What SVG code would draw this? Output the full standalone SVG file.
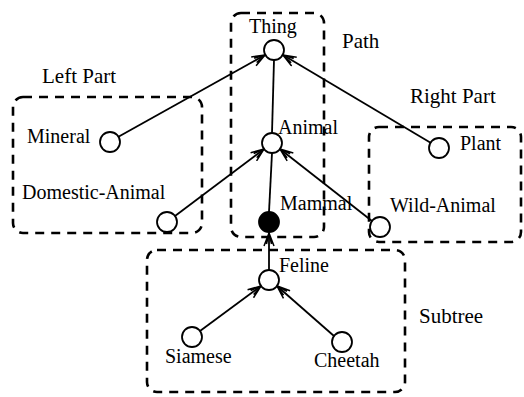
<svg xmlns="http://www.w3.org/2000/svg" width="524" height="397" viewBox="0 0 524 397">
<style>
.box{fill:none;stroke:#000;stroke-width:2.6;stroke-dasharray:9 7}
.edge{stroke:#000;stroke-width:1.8;fill:none}
.node{fill:#fff;stroke:#000;stroke-width:1.8}
.filled{fill:#000;stroke:#000;stroke-width:1.8}
text{font-family:"Liberation Serif","Times New Roman",serif;font-size:20px;fill:#000}
.region{font-size:21px}
</style>
<defs>
<marker id="arr" markerWidth="16" markerHeight="12" viewBox="-14 -6 16 12" refX="0" refY="0" orient="auto" markerUnits="userSpaceOnUse">
<path d="M-13,-5 L0,0 L-13,5 M-11,-2.5 L0,0 L-11,2.5" fill="none" stroke="#000" stroke-width="1.5"/>
</marker>
</defs>
<g id="regions">
<rect class="box" x="13" y="97" width="189" height="136" rx="10"/>
<rect class="box" x="231" y="13" width="93" height="224" rx="10"/>
<rect class="box" x="369" y="127" width="152" height="115" rx="10"/>
<rect class="box" x="147" y="250" width="258" height="142" rx="10"/>
<text class="region" x="42" y="83">Left Part</text>
<text class="region" x="342" y="48">Path</text>
<text class="region" x="410" y="103">Right Part</text>
<text class="region" x="419" y="323">Subtree</text>
</g>
<g id="connectors">
<line class="edge" x1="118" y1="137" x2="265" y2="55" marker-end="url(#arr)"/>
<line class="edge" x1="431" y1="143" x2="283" y2="55" marker-end="url(#arr)"/>
<line class="edge" x1="274" y1="60" x2="272" y2="133"/>
<line class="edge" x1="175" y1="216" x2="264" y2="149" marker-end="url(#arr)"/>
<line class="edge" x1="372" y1="221" x2="280" y2="149" marker-end="url(#arr)"/>
<line class="edge" x1="272" y1="153" x2="269" y2="212"/>
<line class="edge" x1="269" y1="270" x2="269" y2="233" marker-end="url(#arr)"/>
<line class="edge" x1="200" y1="331" x2="261" y2="286" marker-end="url(#arr)"/>
<line class="edge" x1="334" y1="336" x2="277" y2="286" marker-end="url(#arr)"/>
</g>
<g id="Thing"><circle class="node" cx="274" cy="50" r="10"/><text x="249" y="33">Thing</text></g>
<g id="Mineral"><circle class="node" cx="110" cy="142" r="10"/><text x="27" y="143">Mineral</text></g>
<g id="Plant"><circle class="node" cx="439" cy="148" r="10"/><text x="460" y="150">Plant</text></g>
<g id="Animal"><circle class="node" cx="272" cy="143" r="10"/><text x="278" y="134">Animal</text></g>
<g id="Domestic-Animal"><circle class="node" cx="167" cy="222" r="10"/><text x="22" y="199">Domestic-Animal</text></g>
<g id="Wild-Animal"><circle class="node" cx="380" cy="227" r="10"/><text x="390" y="212">Wild-Animal</text></g>
<g id="Mammal"><circle class="filled" cx="269" cy="222" r="10"/><text x="280" y="210">Mammal</text></g>
<g id="Feline"><circle class="node" cx="269" cy="280" r="10"/><text x="279" y="272">Feline</text></g>
<g id="Siamese"><circle class="node" cx="192" cy="337" r="10"/><text x="165" y="363">Siamese</text></g>
<g id="Cheetah"><circle class="node" cx="342" cy="342" r="10"/><text x="314" y="367">Cheetah</text></g>
</svg>
